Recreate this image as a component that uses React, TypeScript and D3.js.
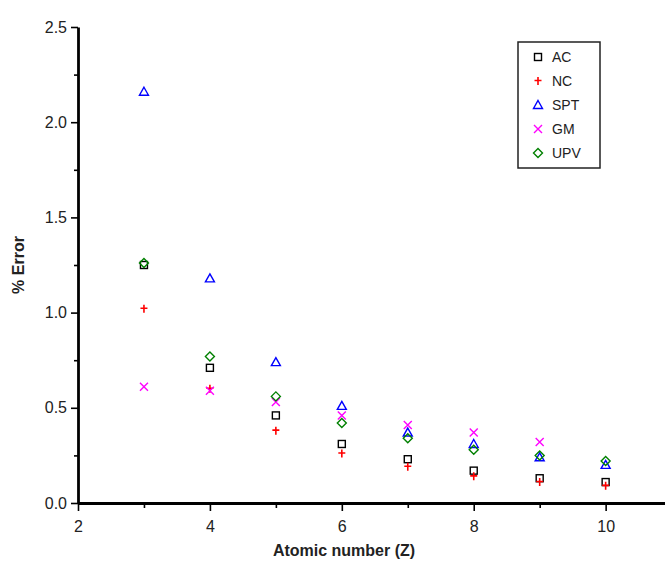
import * as d3 from "d3";
import { useEffect, useRef } from "react";

// atomic number Z on the x axis
const zValues = [3, 4, 5, 6, 7, 8, 9, 10];

// % error for each method
const acErr = [1.25, 0.71, 0.46, 0.31, 0.23, 0.17, 0.13, 0.11];
const ncErr = [1.02, 0.6, 0.38, 0.26, 0.19, 0.14, 0.11, 0.09];
const sptErr = [2.16, 1.18, 0.74, 0.51, 0.37, 0.31, 0.24, 0.2];
const gmErr = [0.61, 0.59, 0.53, 0.46, 0.41, 0.37, 0.32];
const upvErr = [1.26, 0.77, 0.56, 0.42, 0.34, 0.28, 0.25, 0.22];

const xMajor = [2, 4, 6, 8, 10];
const xMinor = [3, 5, 7, 9];
const yMajor = [0, 0.5, 1.0, 1.5, 2.0, 2.5];
const yMinor = [0.25, 0.75, 1.25, 1.75, 2.25];

const series = [
  { name: "AC", values: acErr, color: "#000000", shape: "square" },
  { name: "NC", values: ncErr, color: "#ff0000", shape: "plus" },
  { name: "SPT", values: sptErr, color: "#0000ff", shape: "triangle" },
  { name: "GM", values: gmErr, color: "#ff00ff", shape: "cross" },
  { name: "UPV", values: upvErr, color: "#008000", shape: "diamond" },
];

const font = "'Liberation Sans', Arial, sans-serif";

function Marker({ shape, x, y, color }) {
  const common = { fill: "none", stroke: color, strokeWidth: 1.4 };
  if (shape === "square")
    return <rect x={x - 3.5} y={y - 3.5} width={7} height={7} {...common} />;
  if (shape === "plus")
    return (
      <path
        d={`M${x - 3.5},${y - 0.5}H${x + 3.5}M${x},${y - 4}V${y + 4}`}
        {...common}
        strokeWidth={1.6}
      />
    );
  if (shape === "triangle")
    return (
      <path d={`M${x},${y - 4.5}L${x + 4.5},${y + 3.5}L${x - 4.5},${y + 3.5}Z`} {...common} />
    );
  if (shape === "cross")
    return <path d={`M${x - 4},${y - 4}L${x + 4},${y + 4}M${x + 4},${y - 4}L${x - 4},${y + 4}`} {...common} />;
  return <path d={`M${x},${y - 4.5}L${x + 4.5},${y}L${x},${y + 4.5}L${x - 4.5},${y}Z`} {...common} />;
}

function AxisBottom({ scale, transform }) {
  const ref = useRef(null);
  useEffect(() => {
    if (ref.current) {
      const g = d3.select(ref.current);
      g.selectAll("*").remove();
      const major = g.append("g").call(
        d3.axisBottom(scale).tickValues(xMajor).tickSize(8).tickSizeOuter(0).tickFormat(d3.format("d"))
      );
      const minor = g.append("g").call(
        d3.axisBottom(scale).tickValues(xMinor).tickSize(5).tickSizeOuter(0).tickFormat(() => "")
      );
      minor.select(".domain").remove();
      g.selectAll(".tick line").attr("stroke", "#000").attr("stroke-width", 1.6);
      major.select(".domain").attr("stroke", "#000").attr("stroke-width", 2.8);
      major
        .selectAll(".tick text")
        .attr("font-family", font)
        .attr("font-size", 16)
        .attr("fill", "#222")
        .attr("dy", "0.9em")
        .attr("y", 15);
    }
  }, [ref, scale]);
  return <g ref={ref} transform={transform} />;
}

function AxisLeft({ scale, transform }) {
  const ref = useRef(null);
  useEffect(() => {
    if (ref.current) {
      const g = d3.select(ref.current);
      g.selectAll("*").remove();
      const major = g.append("g").call(
        d3.axisLeft(scale).tickValues(yMajor).tickSize(7).tickSizeOuter(0).tickFormat(d3.format(".1f"))
      );
      const minor = g.append("g").call(
        d3.axisLeft(scale).tickValues(yMinor).tickSize(4).tickSizeOuter(0).tickFormat(() => "")
      );
      minor.select(".domain").remove();
      g.selectAll(".tick line").attr("stroke", "#000").attr("stroke-width", 1.6);
      major.select(".domain").attr("stroke", "#000").attr("stroke-width", 2.8);
      major
        .selectAll(".tick text")
        .attr("font-family", font)
        .attr("font-size", 16)
        .attr("fill", "#222")
        .attr("x", -11);
    }
  }, [ref, scale]);
  return <g ref={ref} transform={transform} />;
}

export default function App() {
  const width = 665;
  const height = 561;
  const left = 78;
  const top = 27;
  const bottom = 503;

  const x = d3.scaleLinear().domain([2, 10.9]).range([left, width]);
  const y = d3.scaleLinear().domain([0, 2.5]).range([bottom, top]);

  const legendX = 518;
  const legendY = 42;

  return (
    <svg
      width={width}
      height={height}
      style={{ position: "absolute", left: 0, top: 0, background: "#fff" }}
    >
      <AxisBottom scale={x} transform={`translate(0, ${bottom})`} />
      <AxisLeft scale={y} transform={`translate(${left}, 0)`} />

      {series.map((s) =>
        s.values.map((v, i) => (
          <Marker key={`${s.name}-${i}`} shape={s.shape} x={x(zValues[i])} y={y(v)} color={s.color} />
        ))
      )}

      <text
        x={(left + 610) / 2}
        y={556}
        textAnchor="middle"
        fontFamily={font}
        fontWeight="bold"
        fontSize={16}
        fill="#222"
      >
        Atomic number (Z)
      </text>
      <text
        transform={`translate(24, ${(top + bottom) / 2}) rotate(-90)`}
        textAnchor="middle"
        fontFamily={font}
        fontWeight="bold"
        fontSize={16}
        fill="#222"
      >
        % Error
      </text>

      <rect x={legendX} y={legendY} width={82} height={126} fill="#fff" stroke="#222" strokeWidth={1.5} />
      {series.map((s, i) => (
        <g key={s.name}>
          <Marker shape={s.shape} x={legendX + 20} y={legendY + 15 + i * 24} color={s.color} />
          <text
            x={legendX + 34}
            y={legendY + 15 + i * 24}
            dy="0.35em"
            fontFamily={font}
            fontSize={14}
            fill="#222"
          >
            {s.name}
          </text>
        </g>
      ))}
    </svg>
  );
}
